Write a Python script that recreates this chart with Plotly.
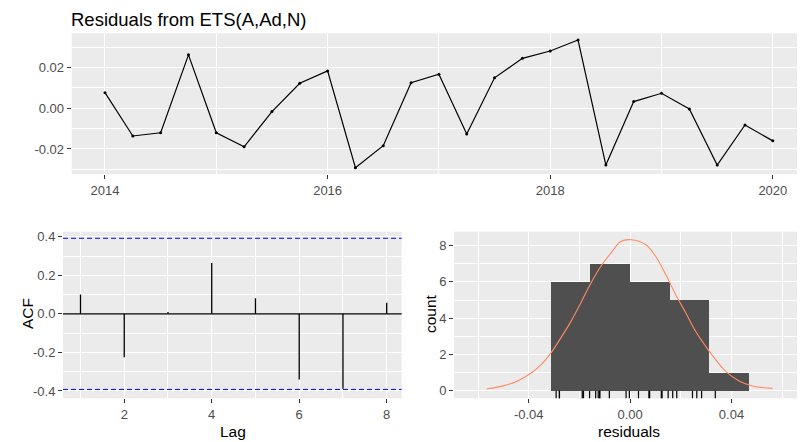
import plotly.graph_objects as go

# ---------------- data ----------------
quarters = [2014.00, 2014.25, 2014.50, 2014.75,
            2015.00, 2015.25, 2015.50, 2015.75,
            2016.00, 2016.25, 2016.50, 2016.75,
            2017.00, 2017.25, 2017.50, 2017.75,
            2018.00, 2018.25, 2018.50, 2018.75,
            2019.00, 2019.25, 2019.50, 2019.75,
            2020.00]
residuals = [0.0077, -0.0136, -0.0120, 0.0263,
             -0.0120, -0.0189, -0.0016, 0.0123,
             0.0184, -0.0292, -0.0184, 0.0126,
             0.0168, -0.0126, 0.0150, 0.0246,
             0.0282, 0.0336, -0.0279, 0.0033,
             0.0074, -0.0003, -0.0279, -0.0082,
             -0.0160]

acf_lags = [1, 2, 3, 4, 5, 6, 7, 8]
acf_values = [0.100, -0.225, 0.010, 0.264, 0.081, -0.340, -0.388, 0.057]
acf_ci = 0.392

bin_start = -0.0313
bin_width = 0.01565

normal_x = [-0.0566, -0.0497, -0.0444, -0.0392, -0.0352, -0.0313, -0.0274,
            -0.0234, -0.0195, -0.0155, -0.0116, -0.0076, -0.0037, 0.0003,
            0.0062, 0.0101, 0.0141, 0.0180, 0.0220, 0.0259, 0.0299, 0.0338,
            0.0378, 0.0430, 0.0483, 0.0562]
normal_y = [0.09, 0.28, 0.54, 0.96, 1.42, 2.07, 2.90, 3.81, 4.83, 5.93, 6.85,
            7.59, 8.23, 8.33, 8.05, 7.40, 6.39, 5.29, 4.28, 3.26, 2.43, 1.70,
            1.05, 0.54, 0.26, 0.13]

title_text = "Residuals from ETS(A,Ad,N)"

# ---------------- styling ----------------
FONT = "Liberation Sans, Arial, sans-serif"
PANEL = "#EBEBEB"
TICKFONT = dict(family=FONT, size=13, color="#4D4D4D")
TITLEFONT = dict(family=FONT, size=15.5, color="#000000")

# the page body has an 8px margin; the figure is sized to fill the rest
OFF = 8
W, H = 805 - OFF, 442 - OFF


def px_x(p):
    return (p - OFF) / W


def px_y(p):
    return 1 - (p - OFF) / H


fig = go.Figure()

# top residual line
fig.add_trace(go.Scatter(
    x=quarters, y=residuals, mode="lines+markers",
    line=dict(color="black", width=1.2),
    marker=dict(color="black", size=3),
    xaxis="x", yaxis="y", showlegend=False, hoverinfo="skip"))

# ACF segments
seg_x, seg_y = [], []
for lag, val in zip(acf_lags, acf_values):
    seg_x += [lag, lag, None]
    seg_y += [0, val, None]
fig.add_trace(go.Scatter(
    x=seg_x, y=seg_y, mode="lines",
    line=dict(color="black", width=1.3),
    xaxis="x2", yaxis="y2", showlegend=False, hoverinfo="skip"))

# histogram
fig.add_trace(go.Histogram(
    x=residuals,
    xbins=dict(start=bin_start, end=bin_start + 5 * bin_width, size=bin_width),
    marker=dict(color="#4F4F4F", line=dict(width=0)),
    xaxis="x3", yaxis="y3", showlegend=False, hoverinfo="skip"))

# normal curve
fig.add_trace(go.Scatter(
    x=normal_x, y=normal_y, mode="lines",
    line=dict(color="#FF8A62", width=1.1, shape="spline"),
    xaxis="x3", yaxis="y3", showlegend=False, hoverinfo="skip"))

# rug
fig.add_trace(go.Scatter(
    x=residuals, y=[-0.24] * len(residuals), mode="markers",
    marker=dict(symbol="line-ns-open", size=6, color="black",
                line=dict(color="black", width=1.2)),
    xaxis="x3", yaxis="y3", showlegend=False, hoverinfo="skip"))

# ACF reference lines
fig.add_shape(type="line", xref="x2 domain", yref="y2", x0=0, x1=1, y0=0, y1=0,
              line=dict(color="black", width=1.2))
for ci in (acf_ci, -acf_ci):
    fig.add_shape(type="line", xref="x2 domain", yref="y2", x0=0, x1=1,
                  y0=ci, y1=ci,
                  line=dict(color="#0000FF", width=1, dash="5px,3px"))

common = dict(
    showgrid=True, gridcolor="white", gridwidth=1.3,
    zeroline=False, showline=False,
    ticks="outside", ticklen=4, tickwidth=1, tickcolor="#333333",
    tickfont=TICKFONT, automargin=False, fixedrange=True,
)


def minor(vals):
    return dict(tickmode="array", tickvals=vals, showgrid=True,
                gridcolor="white", gridwidth=0.7, ticks="")


def label(text, x, y, angle=0):
    return dict(text=text, xref="paper", yref="paper", x=px_x(x), y=px_y(y),
                xanchor="center", yanchor="middle", showarrow=False,
                textangle=angle, font=TITLEFONT)


fig.update_layout(
    width=W, height=H,
    margin=dict(l=0, r=0, t=0, b=0),
    paper_bgcolor="white", plot_bgcolor=PANEL,
    font=dict(family=FONT),
    xaxis=dict(common, domain=[px_x(71.7), 1.0], range=[2013.701, 2020.289],
               tickmode="array", tickvals=[2014, 2016, 2018, 2020],
               minor=minor([2015, 2017, 2019]), anchor="y"),
    yaxis=dict(common, domain=[px_y(174), px_y(33.3)], range=[-0.0323, 0.0369],
               tickmode="array", tickvals=[-0.02, 0, 0.02],
               ticktext=["-0.02", "0.00", "0.02"],
               minor=minor([-0.03, -0.01, 0.01, 0.03]), anchor="x"),
    xaxis2=dict(common, domain=[px_x(63), px_x(401.7)], range=[0.6, 8.343],
                tickmode="array", tickvals=[2, 4, 6, 8],
                minor=minor([1, 3, 5, 7]), anchor="y2"),
    yaxis2=dict(common, domain=[px_y(398.3), px_y(231.7)], range=[-0.438, 0.426],
                tickmode="array", tickvals=[-0.4, -0.2, 0, 0.2, 0.4],
                ticktext=["-0.4", "-0.2", "0.0", "0.2", "0.4"],
                minor=minor([-0.3, -0.1, 0.1, 0.3]), anchor="x2"),
    xaxis3=dict(common, domain=[px_x(454), 1.0], range=[-0.0695, 0.0690],
                tickmode="array", tickvals=[-0.04, 0, 0.04],
                ticktext=["-0.04", "0.00", "0.04"],
                minor=minor([-0.06, -0.02, 0.02, 0.06]), anchor="y3"),
    yaxis3=dict(common, domain=[px_y(398.3), px_y(231.7)], range=[-0.42, 8.77],
                tickmode="array", tickvals=[0, 2, 4, 6, 8],
                minor=minor([1, 3, 5, 7]), anchor="x3"),
    bargap=0,
    annotations=[
        dict(text=title_text, xref="paper", yref="paper",
             x=px_x(70), y=1.0, xanchor="left", yanchor="top",
             showarrow=False, borderpad=0,
             font=dict(family=FONT, size=18.5, color="black")),
        label("Lag", 232.5, 431),
        label("residuals", 629, 431),
        label("ACF", 27, 314, -90),
        label("count", 430, 314, -90),
    ],
)

fig.write_html("out.html")
